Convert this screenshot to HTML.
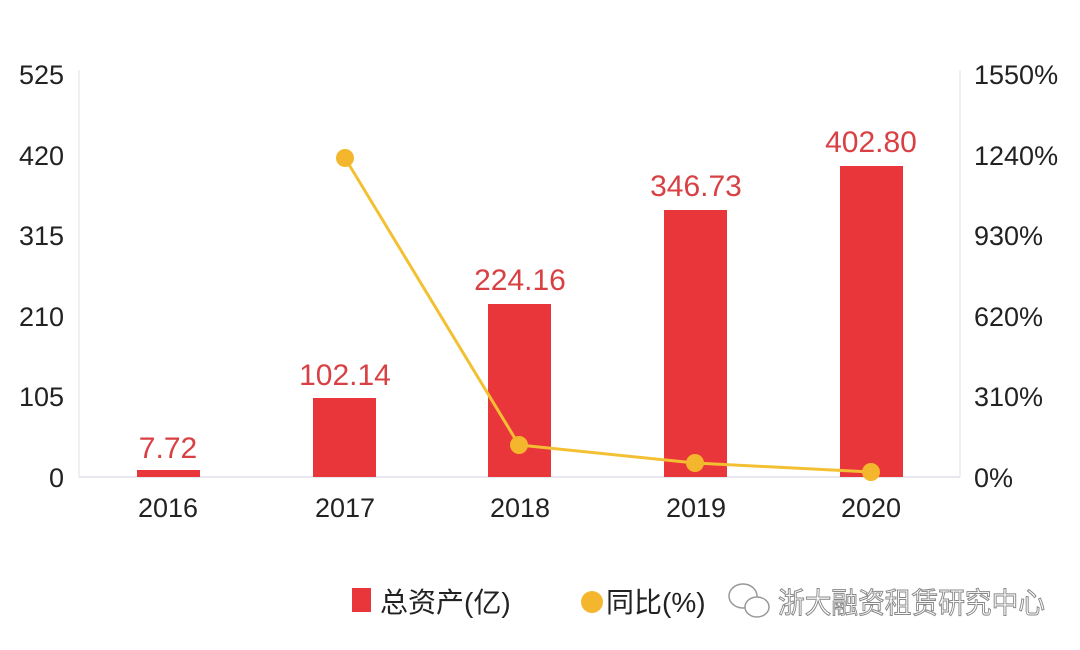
<!DOCTYPE html>
<html><head><meta charset="utf-8"><style>
html,body{margin:0;padding:0;background:#fff;width:1080px;height:650px;overflow:hidden}
svg{display:block}
text{font-family:"Liberation Sans","Noto Sans CJK SC",sans-serif}
</style></head><body>
<svg width="1080" height="650" viewBox="0 0 1080 650" xmlns="http://www.w3.org/2000/svg">
<rect width="1080" height="650" fill="#fff"/>
<line x1="79" y1="70" x2="79" y2="477" stroke="#eef0f4" stroke-width="2"/>
<line x1="960" y1="70" x2="960" y2="477" stroke="#eef0f4" stroke-width="2"/>
<line x1="79" y1="477" x2="960" y2="477" stroke="#e6e8ee" stroke-width="2"/>
<g font-size="27" fill="#222" text-anchor="end">
<text x="64" y="84">525</text><text x="64" y="165">420</text><text x="64" y="245">315</text>
<text x="64" y="326">210</text><text x="64" y="406">105</text><text x="64" y="487">0</text>
</g>
<g font-size="27" fill="#222" text-anchor="start">
<text x="974" y="84">1550%</text><text x="974" y="165">1240%</text><text x="974" y="245">930%</text>
<text x="974" y="326">620%</text><text x="974" y="406">310%</text><text x="974" y="487">0%</text>
</g>
<g fill="#e8363b">
<rect x="137" y="470" width="63" height="7"/>
<rect x="313" y="398" width="63" height="79"/>
<rect x="488" y="304" width="63" height="173"/>
<rect x="664" y="210" width="63" height="267"/>
<rect x="840" y="166" width="63" height="311"/>
</g>
<g font-size="30" fill="#d94044" text-anchor="middle">
<text x="168" y="458">7.72</text>
<text x="345" y="385">102.14</text>
<text x="520" y="290">224.16</text>
<text x="696" y="196">346.73</text>
<text x="871" y="152">402.80</text>
</g>
<polyline points="345,158 519,445 695,463 871,472" fill="none" stroke="#f4c033" stroke-width="3"/>
<g fill="#f4b62c">
<circle cx="345" cy="158" r="9"/><circle cx="519" cy="445" r="9"/>
<circle cx="695" cy="463" r="9"/><circle cx="871" cy="472" r="9"/>
</g>
<g font-size="27" fill="#222" text-anchor="middle">
<text x="168" y="517">2016</text><text x="345" y="517">2017</text><text x="520" y="517">2018</text>
<text x="696" y="517">2019</text><text x="871" y="517">2020</text>
</g>
<rect x="352" y="588" width="19" height="24" fill="#e8363b"/>
<text x="380" y="612" font-size="28" fill="#222">总资产(亿)</text>
<circle cx="592" cy="602" r="11" fill="#f4b62c"/>
<text x="606" y="612" font-size="28" fill="#222">同比(%)</text>
<g fill="#fff" stroke="#999" stroke-width="1.5">
<ellipse cx="743" cy="596" rx="14" ry="12"/>
<ellipse cx="757" cy="607" rx="12" ry="10"/>
</g>
<text x="778" y="613" font-size="29" textLength="267" lengthAdjust="spacingAndGlyphs" fill="#fff" stroke="#888" stroke-width="1">浙大融资租赁研究中心</text>
</svg>
</body></html>
